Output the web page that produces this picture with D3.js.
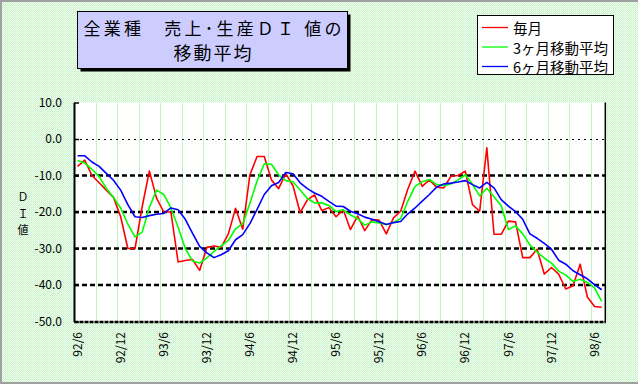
<!DOCTYPE html>
<html><head><meta charset="utf-8">
<script src="https://cdn.jsdelivr.net/npm/d3@7"></script>
<style>body{margin:0;background:#fff;} svg{display:block;} text{font-family:'Noto Sans CJK JP','Noto Sans',sans-serif;}</style>
</head><body>
<svg id="c" width="638" height="384"></svg>
<script>
const categories = [
 "92/6","92/7","92/8","92/9","92/10","92/11","92/12",
 "93/1","93/2","93/3","93/4","93/5","93/6","93/7","93/8","93/9","93/10","93/11","93/12",
 "94/1","94/2","94/3","94/4","94/5","94/6","94/7","94/8","94/9","94/10","94/11","94/12",
 "95/1","95/2","95/3","95/4","95/5","95/6","95/7","95/8","95/9","95/10","95/11","95/12",
 "96/1","96/2","96/3","96/4","96/5","96/6","96/7","96/8","96/9","96/10","96/11","96/12",
 "97/1","97/2","97/3","97/4","97/5","97/6","97/7","97/8","97/9","97/10","97/11","97/12",
 "98/1","98/2","98/3","98/4","98/5","98/6","98/7"];
const tickLabels = ["92/6","92/12","93/6","93/12","94/6","94/12","95/6","95/12","96/6","96/12","97/6","97/12","98/6"];
const monthly = [-7.5,-5.8,-10,-12,-14,-16,-21.3,-30,-30,-18.5,-8.8,-16.2,-20,-20,-33.7,-33.3,-33,-36,-29.7,-29.3,
 -29.7,-26,-19,-24.7,-9.8,-4.8,-4.8,-11.2,-13.6,-9.5,-12.8,-20.2,-16.7,-15.3,-19.6,-18.8,-21.3,-19.4,-24.8,-21.1,
 -25.1,-22.1,-22.2,-26,-21.6,-19.8,-13.7,-8.8,-13,-11.2,-13.2,-13.4,-10.2,-10,-8.8,-18,-19.8,-2.4,-26.1,-26.1,
 -22.5,-22.7,-32.5,-32.5,-30.2,-37,-35.2,-37,-41.1,-40.2,-34.3,-43.3,-45.9,-46.1];
const ma3 = [-5.9,-6.6,-8.3,-10.3,-13.5,-16,-18.9,-23.3,-26.8,-25.5,-18.7,-14,-15.2,-18.9,-24.2,-30,-33.4,-34,-32.6,-30.8,
 -29.3,-27.8,-24.6,-23.2,-17.6,-11.5,-6.8,-6.9,-9.8,-11.4,-11.7,-14,-16.3,-17.5,-17.5,-18.2,-19.9,-19.4,-20.8,-21.8,
 -23.6,-22.7,-23,-23.4,-22.9,-21.8,-17,-13,-11.7,-11.1,-12.5,-12.7,-12.3,-11.2,-9.8,-12.4,-15.6,-13.5,-15.8,-18.3,
 -24.8,-23.8,-26,-29,-31,-32.6,-34,-36.2,-37.3,-39,-38.4,-39.3,-40.8,-44.5];
const ma6 = [-4.6,-4.6,-6.3,-7.5,-9.4,-11.3,-14,-18,-21.3,-21.5,-21,-20.6,-20.4,-18.9,-19.4,-22,-25.8,-29.4,-31.2,-32.5,
 -31.7,-30.6,-27.6,-26.2,-23.2,-19.3,-15.2,-12.8,-11.9,-9.2,-9.5,-12,-13.6,-14.8,-15.7,-17.1,-18.4,-18.5,-19.8,-20.5,
 -21.4,-22,-22.7,-23.4,-22.9,-22.6,-20.5,-18.9,-17,-15.2,-13.2,-12.3,-12.1,-11.8,-11.4,-12.5,-13.4,-11.9,-13.4,-16.6,
 -18.4,-19.9,-22,-26,-27.2,-28.6,-30.2,-33.2,-34.3,-36.1,-37.2,-38.3,-39.9,-41.3];
const yTicks = [10,0,-10,-20,-30,-40,-50];
const dashedGrid = [-10,-20,-30,-40];
const dottedGrid = [0];
const seriesNames = ["毎月","3ヶ月移動平均","6ヶ月移動平均"];
const seriesColors = ["#ff0000","#00ff00","#0000ff"];
const titleLines = ["全業種　売上･生産ＤＩ 値の","移動平均"];
const yTitle = ["Ｄ","Ｉ","値"];

const W = 638, H = 384;
const svg = d3.select("#c");
const defs = svg.append("defs");
const pat = defs.append("pattern").attr("id","bg").attr("width",2).attr("height",2).attr("patternUnits","userSpaceOnUse");
pat.append("rect").attr("width",2).attr("height",2).attr("fill","#c6f4c6");
pat.append("rect").attr("width",1).attr("height",1).attr("fill","#ffffff");
pat.append("rect").attr("x",1).attr("y",1).attr("width",1).attr("height",1).attr("fill","#e8fbe8");
svg.append("rect").attr("width",W).attr("height",H).attr("fill","url(#bg)");
svg.append("rect").attr("x",0).attr("y",0).attr("width",2).attr("height",H).attr("fill","#a0a0a0");
svg.append("rect").attr("x",0).attr("y",0).attr("width",W).attr("height",2).attr("fill","#a0a0a0");
svg.append("rect").attr("x",0).attr("y",H-2).attr("width",W).attr("height",2).attr("fill","#a0a0a0");

const L = 74, R = 605.3, T = 102.5, B = 321.5;
const x = d3.scaleBand().domain(categories).range([L, R]).padding(0);
const cx = c => x(c) + x.bandwidth() / 2;
const y = d3.scaleLinear().domain([-50, 10]).range([B, T]);

svg.append("rect").attr("x",L).attr("y",T).attr("width",R-L).attr("height",B-T).attr("fill","#ffffff");

const vg = categories.filter((c,i)=> i>0 && i%3===0);
svg.append("g").selectAll("line").data(vg).join("line")
  .attr("x1",d=>Math.round(x(d))+0.5).attr("x2",d=>Math.round(x(d))+0.5)
  .attr("y1",T).attr("y2",B).attr("stroke","#c4f2c4").attr("stroke-width",1);

svg.append("g").selectAll("line").data(dashedGrid).join("line")
  .attr("x1",L).attr("x2",R).attr("y1",d=>y(d)).attr("y2",d=>y(d))
  .attr("stroke","#000").attr("stroke-width",2.5).attr("stroke-dasharray","5,3");
svg.append("g").selectAll("line").data(dottedGrid).join("line")
  .attr("x1",L).attr("x2",R).attr("y1",d=>Math.round(y(d))+0.5).attr("y2",d=>Math.round(y(d))+0.5)
  .attr("stroke","#000").attr("stroke-width",1).attr("stroke-dasharray","2,4");

svg.append("line").attr("x1",R).attr("x2",R).attr("y1",T).attr("y2",B+1).attr("stroke","#000").attr("stroke-width",1.5);

const xAxis = svg.append("g").attr("transform",`translate(0,${B})`)
  .call(d3.axisBottom(x).tickValues(tickLabels).tickSize(0).tickSizeOuter(0));
xAxis.select(".domain").attr("stroke","#000").attr("stroke-width",2.5).attr("stroke-dasharray","4,1");
xAxis.selectAll("text").attr("transform","rotate(-90)").attr("x",-10.5).attr("y",0).attr("dy","0.35em")
  .attr("text-anchor","end").attr("font-size",12).attr("fill","#000")
  .style("font-family","'Noto Sans CJK JP',sans-serif");

const yAxis = svg.append("g").attr("transform",`translate(${L},0)`)
  .call(d3.axisLeft(y).tickValues(yTicks).tickSize(-5).tickSizeOuter(0).tickPadding(12).tickFormat(d=>d.toFixed(1)));
yAxis.select(".domain").attr("stroke","#000").attr("stroke-width",2);
yAxis.selectAll(".tick line").attr("stroke","#000").attr("stroke-width",1.5);
yAxis.selectAll("text").attr("font-size",12).attr("fill","#000")
  .style("font-family","'Noto Sans CJK JP',sans-serif");

svg.append("g").selectAll("text").data(yTitle).join("text")
  .attr("x",23).attr("y",(d,i)=>196+i*16.5).attr("text-anchor","middle").attr("dominant-baseline","central")
  .attr("font-size",11).text(d=>d);

const allSeries = [monthly, ma3, ma6];
const line = d3.line().x((d,i)=>cx(categories[i])).y(d=>y(d));
svg.append("g").selectAll("path").data(allSeries).join("path")
  .attr("d",d=>line(d)).attr("fill","none")
  .attr("stroke",(d,i)=>seriesColors[i]).attr("stroke-width",1.6).attr("stroke-linejoin","round");

const tb = {x:77.5, y:11.5, w:270, h:57};
svg.append("rect").attr("x",tb.x+3).attr("y",tb.y+3).attr("width",tb.w).attr("height",tb.h).attr("fill","#000");
svg.append("rect").attr("x",tb.x).attr("y",tb.y).attr("width",tb.w).attr("height",tb.h)
  .attr("fill","#ccccff").attr("stroke","#000").attr("stroke-width",1);
svg.append("text").attr("x",212.5).attr("y",27.5).attr("text-anchor","middle").attr("dominant-baseline","central")
  .attr("font-size",17).attr("textLength",258).attr("lengthAdjust","spacing").text(titleLines[0]);
svg.append("text").attr("x",212.5).attr("y",52).attr("text-anchor","middle").attr("dominant-baseline","central")
  .attr("font-size",18).attr("textLength",78).attr("lengthAdjust","spacing").text(titleLines[1]);

svg.append("rect").attr("x",477.5).attr("y",15.5).attr("width",136).attr("height",59)
  .attr("fill","#fff").attr("stroke","#000").attr("stroke-width",1);
const lg = svg.append("g").selectAll("g").data(seriesNames).join("g")
  .attr("transform",(d,i)=>`translate(0,${[27.5,47,66.5][i]})`);
lg.append("line").attr("x1",482).attr("x2",508).attr("y1",0).attr("y2",0)
  .attr("stroke",(d,i)=>seriesColors[i]).attr("stroke-width",1.3);
lg.append("text").attr("x",513).attr("y",0).attr("dominant-baseline","central").attr("font-size",14.5).text(d=>d);
</script>
</body></html>
